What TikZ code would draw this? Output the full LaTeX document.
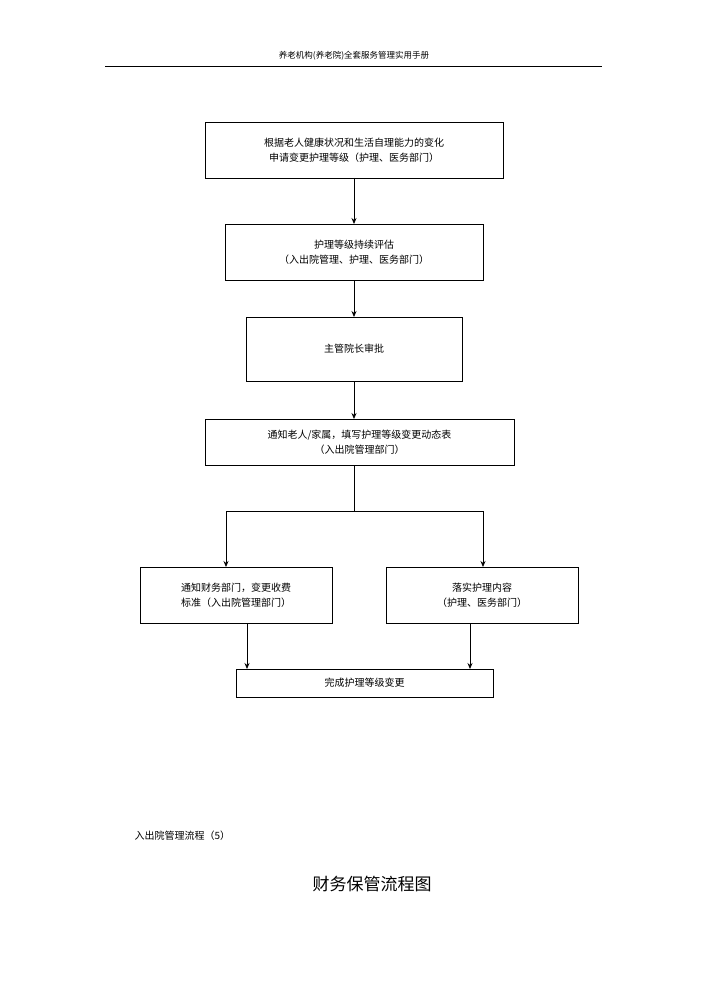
\documentclass[tikz,border=0pt]{standalone}
\usepackage{fontspec}
\setmainfont{Noto Sans CJK SC}
\usetikzlibrary{arrows.meta}
\begin{document}
\begin{tikzpicture}[x=1pt,y=-1pt,
  bx/.style={draw,thick,inner sep=0pt,align=center,font=\fontsize{10}{15}\selectfont},
  ar/.style={thick,-{Stealth[length=6pt,width=5pt]}}]
\useasboundingbox (0,0) rectangle (707,1000);
\node[font=\fontsize{8.5}{10}\selectfont] (hd) at (354,56) {养老机构(养老院)全套服务管理实用手册};
\draw (105,66) -- (602,66);
\node[bx,minimum width=298pt,minimum height=56pt] (b1) at (354,150) {根据老人健康状况和生活自理能力的变化\\申请变更护理等级（护理、医务部门）};
\node[bx,minimum width=258pt,minimum height=56pt] (b2) at (354,252) {护理等级持续评估\\（入出院管理、护理、医务部门）};
\node[bx,minimum width=216pt,minimum height=64pt] (b3) at (354,349) {主管院长审批};
\node[bx,minimum width=309pt,minimum height=46pt] (b4) at (359.5,442) {通知老人/家属，填写护理等级变更动态表\\（入出院管理部门）};
\node[bx,minimum width=192pt,minimum height=56pt] (b5) at (236,595) {通知财务部门，变更收费\\标准（入出院管理部门）};
\node[bx,minimum width=192pt,minimum height=56pt] (b6) at (482,595) {落实护理内容\\（护理、医务部门）};
\node[bx,minimum width=257pt,minimum height=28pt] (b7) at (364.5,683) {完成护理等级变更};
\draw[ar] (354,178) -- (354,224);
\draw[ar] (354,280) -- (354,317);
\draw[ar] (354,381) -- (354,419);
\coordinate (s) at (354,511);
\draw[thick] (354,465) -- (s);
\draw[ar] (s) -- (226,511) -- (226,567);
\draw[ar] (s) -- (483,511) -- (483,567);
\draw[ar] (247,623) -- (247,669);
\draw[ar] (470,623) -- (470,669);
\node[anchor=west,font=\fontsize{10}{12}\selectfont] (t1) at (131,836) {入出院管理流程（5）};
\node[font=\fontsize{17}{20}\selectfont] (t2) at (372,884) {财务保管流程图};
\end{tikzpicture}
\end{document}
